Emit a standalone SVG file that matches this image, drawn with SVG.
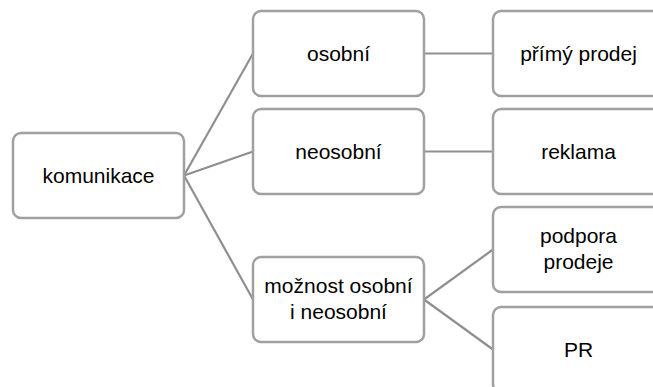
<svg xmlns="http://www.w3.org/2000/svg" width="653" height="387" viewBox="0 0 653 387">
<style>
.box{fill:#ffffff;stroke:#a0a0a0;stroke-width:2.5}
.lbl{font-family:"Liberation Sans",Arial,sans-serif;font-size:21px;fill:#000000;text-anchor:middle}
.con{stroke:#8f8f8f;stroke-width:2.2;fill:none}
</style>
<rect width="653" height="387" fill="#ffffff"/>
<g id="connectors">
<line class="con" x1="184" y1="175.5" x2="253" y2="53.5"/>
<line class="con" x1="184" y1="175.5" x2="253" y2="151.5"/>
<line class="con" x1="184" y1="175.5" x2="253" y2="299.5"/>
<line class="con" x1="424" y1="53.5" x2="493" y2="53.5"/>
<line class="con" x1="424" y1="151.5" x2="493" y2="151.5"/>
<line class="con" x1="424" y1="299.5" x2="493" y2="249.5"/>
<line class="con" x1="424" y1="299.5" x2="493" y2="349.5"/>
</g>
<g id="komunikace">
<rect class="box" x="13" y="133" width="171" height="85" rx="8"/>
<text class="lbl" x="98.5" y="183">komunikace</text>
</g>
<g id="osobni">
<rect class="box" x="253" y="11" width="171" height="85" rx="8"/>
<text class="lbl" x="338.5" y="61">osobní</text>
</g>
<g id="neosobni">
<rect class="box" x="253" y="109" width="171" height="85" rx="8"/>
<text class="lbl" x="338.5" y="159">neosobní</text>
</g>
<g id="moznost">
<rect class="box" x="253" y="257" width="171" height="85" rx="8"/>
<text class="lbl" x="338.5" y="293">možnost osobní</text>
<text class="lbl" x="338.5" y="319">i neosobní</text>
</g>
<g id="primy-prodej">
<rect class="box" x="493" y="11" width="171" height="85" rx="8"/>
<text class="lbl" x="578.5" y="61">přímý prodej</text>
</g>
<g id="reklama">
<rect class="box" x="493" y="109" width="171" height="85" rx="8"/>
<text class="lbl" x="578.5" y="159">reklama</text>
</g>
<g id="podpora-prodeje">
<rect class="box" x="493" y="207" width="171" height="85" rx="8"/>
<text class="lbl" x="578.5" y="243">podpora</text>
<text class="lbl" x="578.5" y="269">prodeje</text>
</g>
<g id="pr">
<rect class="box" x="493" y="307" width="171" height="85" rx="8"/>
<text class="lbl" x="578.5" y="357">PR</text>
</g>
</svg>
